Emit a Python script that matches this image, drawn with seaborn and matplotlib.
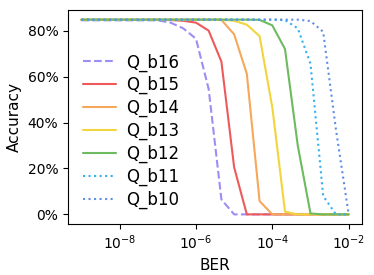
import matplotlib
matplotlib.use("Agg")
import matplotlib.pyplot as plt
import seaborn as sns
from matplotlib.ticker import PercentFormatter, NullLocator

# bit error rates (3 points per decade)
ber = [1.0e-9, 2.15e-9, 4.64e-9, 1.0e-8, 2.15e-8, 4.64e-8, 1.0e-7, 2.15e-7,
       4.64e-7, 1.0e-6, 2.15e-6, 4.64e-6, 1.0e-5, 2.15e-5, 4.64e-5, 1.0e-4,
       2.15e-4, 4.64e-4, 1.0e-3, 2.15e-3, 4.64e-3, 1.0e-2]

# accuracy for each quantization width
q_b16 = [0.845, 0.845, 0.845, 0.845, 0.845, 0.845, 0.845, 0.835, 0.81, 0.765, 0.546,
         0.065, 0, 0, 0, 0, 0, 0, 0, 0, 0, 0]
q_b15 = [0.847, 0.847, 0.847, 0.847, 0.847, 0.847, 0.847, 0.846, 0.843, 0.835, 0.80,
         0.665, 0.205, 0, 0, 0, 0, 0, 0, 0, 0, 0]
q_b14 = [0.848, 0.848, 0.848, 0.848, 0.848, 0.848, 0.848, 0.848, 0.848, 0.848, 0.848,
         0.847, 0.784, 0.612, 0.058, 0, 0, 0, 0, 0, 0, 0]
q_b13 = [0.848, 0.848, 0.848, 0.848, 0.848, 0.848, 0.848, 0.848, 0.848, 0.848, 0.848,
         0.848, 0.843, 0.826, 0.776, 0.466, 0.012, 0, 0, 0, 0, 0]
q_b12 = [0.848, 0.848, 0.848, 0.848, 0.848, 0.848, 0.848, 0.848, 0.848, 0.848, 0.848,
         0.848, 0.848, 0.848, 0.847, 0.823, 0.72, 0.30, 0.004, 0, 0, 0]
q_b11 = [0.848, 0.848, 0.848, 0.848, 0.848, 0.848, 0.848, 0.848, 0.848, 0.848, 0.848,
         0.848, 0.848, 0.848, 0.848, 0.848, 0.846, 0.81, 0.656, 0.08, 0, 0]
q_b10 = [0.848, 0.848, 0.848, 0.848, 0.848, 0.848, 0.848, 0.848, 0.848, 0.848, 0.848,
         0.848, 0.848, 0.848, 0.848, 0.848, 0.848, 0.848, 0.842, 0.795, 0.37, 0]

names = ["Q_b16", "Q_b15", "Q_b14", "Q_b13", "Q_b12", "Q_b11", "Q_b10"]
series = [q_b16, q_b15, q_b14, q_b13, q_b12, q_b11, q_b10]
colors = ["#9b8ef5", "#ee5a5a", "#f5a85a", "#f2d53c", "#6cbb5f", "#33b0f0", "#5f8ee8"]
styles = ["--", "-", "-", "-", "-", ":", ":"]

x_ticks = [1e-8, 1e-6, 1e-4, 1e-2]

sns.set_style("ticks")
plt.rcParams["text.color"] = "black"
plt.rcParams["axes.labelcolor"] = "black"
plt.rcParams["xtick.color"] = "black"
plt.rcParams["ytick.color"] = "black"
plt.rcParams["axes.edgecolor"] = "black"

fig, ax = plt.subplots(figsize=(3.74, 2.75), dpi=100)
ax.set_xscale("log")

for name, vals, c, ls in zip(names, series, colors, styles):
    sns.lineplot(x=ber, y=vals, label=name, color=c, linestyle=ls,
                 linewidth=1.5, ax=ax)

ax.set_xticks(x_ticks)
ax.xaxis.set_minor_locator(NullLocator())
ax.yaxis.set_major_formatter(PercentFormatter(xmax=1, decimals=0))
ax.tick_params(labelsize=10)
ax.set_xlabel("BER", fontsize=11)
ax.set_ylabel("Accuracy", fontsize=11)

ax.legend(loc="lower left", frameon=False, fontsize=12, labelspacing=0.28,
          handlelength=1.95, handletextpad=0.65)

fig.subplots_adjust(left=0.182, right=0.968, top=0.964, bottom=0.185)
fig.savefig("out.png", dpi=100)
